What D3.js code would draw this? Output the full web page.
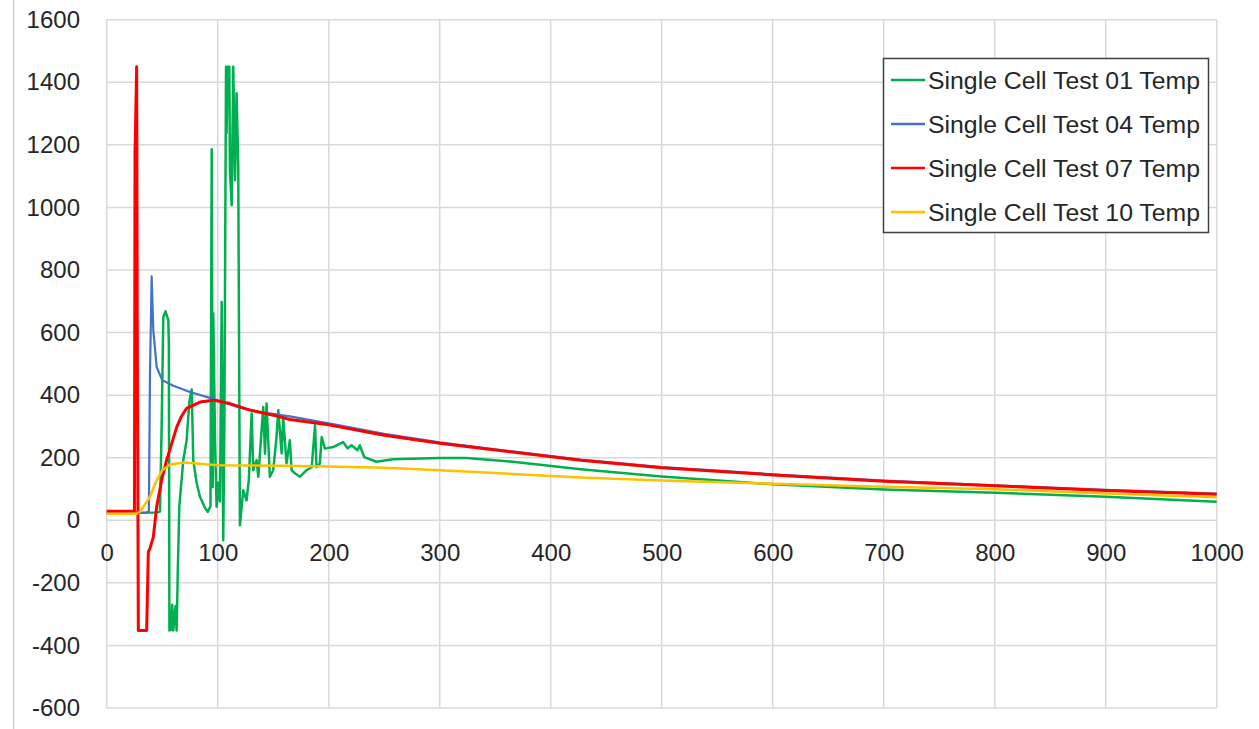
<!DOCTYPE html>
<html>
<head>
<meta charset="utf-8">
<script src="https://cdn.jsdelivr.net/npm/d3@7"></script>
<style>
  html, body { margin: 0; padding: 0; background: #ffffff; }
  svg { display: block; }
  text { font-family: "Liberation Sans", Arial, sans-serif; fill: #262626; }
</style>
</head>
<body>
<svg id="chart" width="1259" height="729"></svg>
<script>
// Time (s) vs temperature (°C) for four single-cell tests
const seriesNames = [
  "Single Cell Test 01 Temp",
  "Single Cell Test 04 Temp",
  "Single Cell Test 07 Temp",
  "Single Cell Test 10 Temp"
];
const seriesColors = ["#00B050", "#4472C4", "#FF0000", "#FFC000"];

const test01 = [
  [0,24],[20,24],[45,25],[48,28],[49.5,300],[51,650],[53,668],[55.5,640],[56,560],
  [56.5,-352],[58,-350],[59,-270],[60,-352],[62,-275],[63,-352],[64,-170],[65.4,43],
  [69,192],[72,256],[74.5,380],[76.6,418],[78,192],[81,120],[84,75],[86,60],[88,43],
  [91,27],[93.5,45],[94.6,1186],[95.5,106],[96,662],[97.6,256],[99,43],[100.5,120],
  [102,60],[103.6,698],[105,-64],[106,300],[107.5,1450],[108,1238],[109,1450],
  [110.5,1450],[111,1119],[112.6,1007],[114,1450],[115.6,1087],[117,1365],[118.5,1135],
  [120,-16],[123,96],[126,64],[128,128],[130.6,341],[132,160],[135,192],[136.6,139],
  [141,362],[142.6,213],[144,373],[147,139],[150,160],[153,266],[154.6,352],[157.6,214],
  [159,330],[162,182],[165,256],[166.6,160],[169.6,150],[174,139],[180,160],[184.7,170],
  [187.7,304],[189,170],[192,181],[193.7,266],[196.6,229],[204,234],[213,250],[217,230],
  [220.6,240],[226,224],[228,240],[232,202],[243,187],[258,195],[300,199],[324,199],
  [366,187],[427,163],[500,140],[600,115],[700,98],[800,88],[900,75],[1000,59]
];
const test04 = [
  [0,24],[36,24],[38,30],[39,470],[40.5,780],[42,607],[45,490],[50,448],[60,430],
  [75,410],[96,388],[120,360],[140,345],[165,332],[200,310],[250,276],[300,249],
  [350,227],[427,194],[500,170],[600,147],[700,127],[800,112],[900,97],[1000,85]
];
const test07 = [
  [0,29],[25,29],[25.5,1170],[27,1450],[27.5,672],[28.5,-352],[36,-352],[37.5,-101],
  [39,-90],[42,-53],[45,43],[49.5,128],[54,192],[60,262],[63,297],[67,330],[72,358],
  [84,378],[96,384],[111,373],[129,352],[150,336],[165,322],[200,305],[250,272],
  [300,246],[350,225],[427,192],[500,168],[600,145],[700,125],[800,110],[900,95],[1000,83]
];
const test10 = [
  [0,21],[27,21],[30,28],[33,43],[39,75],[44,120],[50,160],[57,178],[70,185],
  [100,176],[156,174],[200,172],[250,168],[300,160],[427,137],[500,127],[600,117],
  [700,107],[800,99],[900,86],[1000,74]
];
const allSeries = [test01, test04, test07, test10];
const seriesWidths = [2.5, 2.2, 3, 2.5];

const xTicks = d3.range(0, 1001, 100);
const yTicks = d3.range(-600, 1601, 200);

const svg = d3.select("#chart");
const W = 1259, H = 729;
const plot = { left: 106.7, right: 1216.7, top: 19.7, bottom: 708 };

const x = d3.scaleLinear().domain([0, 1000]).range([plot.left, plot.right]);
const y = d3.scaleLinear().domain([-600, 1600]).range([plot.bottom, plot.top]);

// plain hyphen for negatives
const fmt = d => String(d);

// outer chart frame edge
svg.append("line")
  .attr("x1", 13.5).attr("x2", 13.5).attr("y1", 0).attr("y2", H)
  .attr("stroke", "#cfcfcf").attr("stroke-width", 1.5);

// gridlines
const grid = svg.append("g");
grid.selectAll("line.h").data(yTicks).join("line")
  .attr("x1", plot.left).attr("x2", plot.right)
  .attr("y1", d => y(d)).attr("y2", d => y(d))
  .attr("stroke", "#d9d9d9").attr("stroke-width", 1.5);
grid.selectAll("line.v").data(xTicks).join("line")
  .attr("y1", plot.top).attr("y2", plot.bottom)
  .attr("x1", d => x(d)).attr("x2", d => x(d))
  .attr("stroke", "#d9d9d9").attr("stroke-width", 1.5);

// y axis labels
const yAxis = d3.axisLeft(y).tickValues(yTicks).tickSize(0).tickPadding(0)
  .tickFormat(fmt);
svg.append("g").attr("transform", `translate(80,0)`).call(yAxis)
  .call(g => g.select(".domain").remove())
  .call(g => g.selectAll("text").attr("font-size", 24)
    .attr("font-family", "Liberation Sans, Arial, sans-serif").attr("fill", "#262626"));

// x axis labels, hung below the zero line
const xAxis = d3.axisBottom(x).tickValues(xTicks).tickSize(0).tickPadding(0)
  .tickFormat(fmt);
svg.append("g").attr("transform", `translate(0,${y(0) + 24})`).call(xAxis)
  .call(g => g.select(".domain").remove())
  .call(g => g.selectAll("text").attr("font-size", 24).attr("dy", "0.7em")
    .attr("font-family", "Liberation Sans, Arial, sans-serif").attr("fill", "#262626"));

// series lines
const line = d3.line().x(d => x(d[0])).y(d => y(d[1]));
svg.append("g").selectAll("path").data(allSeries).join("path")
  .attr("d", line)
  .attr("fill", "none")
  .attr("stroke", (d, i) => seriesColors[i])
  .attr("stroke-width", (d, i) => seriesWidths[i])
  .attr("stroke-linejoin", "round");

// legend
const lg = svg.append("g");
lg.append("rect")
  .attr("x", 883.5).attr("y", 58.5).attr("width", 325).attr("height", 174)
  .attr("fill", "#ffffff").attr("stroke", "#404040").attr("stroke-width", 1.5);
const rowY = [80, 124, 168, 212];
seriesNames.forEach((name, i) => {
  lg.append("line")
    .attr("x1", 891).attr("x2", 925).attr("y1", rowY[i]).attr("y2", rowY[i])
    .attr("stroke", seriesColors[i]).attr("stroke-width", 2.5);
  lg.append("text")
    .attr("x", 928).attr("y", rowY[i]).attr("dy", "0.35em")
    .attr("font-size", 24.8).text(name);
});
</script>
</body>
</html>
